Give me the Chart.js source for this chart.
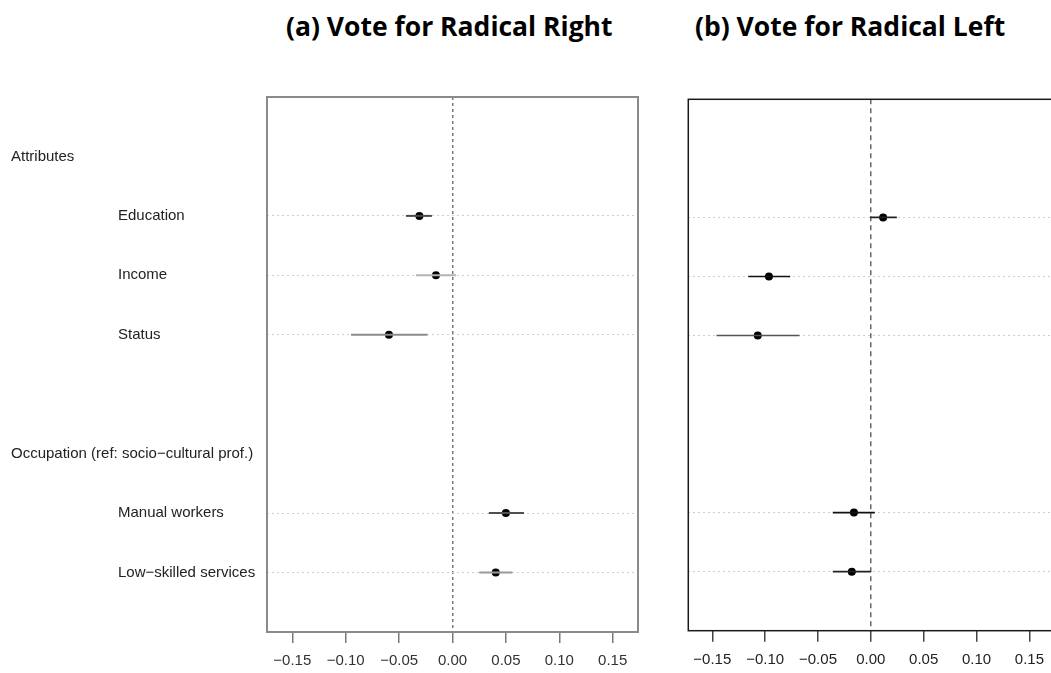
<!DOCTYPE html>
<html>
<head>
<meta charset="utf-8">
<script src="https://cdn.jsdelivr.net/npm/chart.js@4.4.1/dist/chart.umd.min.js"></script>
<style>
  html, body { margin: 0; padding: 0; background: #fff; overflow: hidden; width: 1051px; height: 673px; }
  canvas { position: absolute; top: 0; }
  #panelA { left: 0; }
  #panelB { left: 660px; }
  .title { position: absolute; top: 8px; font-family: "Open Sans", "Lato", sans-serif; font-weight: bold; font-size: 26.5px; color: #000; white-space: nowrap; }
</style>
</head>
<body>
<div class="title" id="titleA" style="left:286px">(a) Vote for Radical Right</div>
<div class="title" id="titleB" style="left:695px">(b) Vote for Radical Left</div>
<canvas id="panelA" width="660" height="673"></canvas>
<canvas id="panelB" width="420" height="673"></canvas>
<script>
// Row labels, top to bottom (blank entry = spacer row)
const rowLabels = ['Attributes', 'Education', 'Income', 'Status', '', 'Occupation (ref: socio\u2212cultural prof.)', 'Manual workers', 'Low\u2212skilled services'];
const headerRows = ['Attributes', 'Occupation (ref: socio\u2212cultural prof.)'];
// Coefficient terms, in the order they appear
const terms = ['Education', 'Income', 'Status', 'Manual workers', 'Low\u2212skilled services'];

// (a) Vote for radical right: estimates and 95% intervals
const rightEst = [-0.031, -0.0155, -0.0595, 0.050, 0.0405];
const rightLo  = [-0.0436, -0.0342, -0.095, 0.034, 0.025];
const rightHi  = [-0.0193, 0.0032, -0.0234, 0.067, 0.056];
const rightBarColors = ['#4a4a4a', '#b4b4b4', '#8c8c8c', '#505050', '#9a9a9a'];

// (b) Vote for radical left: estimates and 95% intervals
const leftEst = [0.0116, -0.0964, -0.107, -0.016, -0.018];
const leftLo  = [-0.0007, -0.116, -0.146, -0.036, -0.036];
const leftHi  = [0.0246, -0.0763, -0.0675, 0.0038, 0.0];
const leftBarColors = ['#222', '#111', '#555', '#111', '#222'];

// Tick labels on the coefficient axis
const xTicks = [-0.15, -0.10, -0.05, 0.00, 0.05, 0.10, 0.15];

const rowOf = name => rowLabels.indexOf(name) + 1;
const fmt = v => (v < 0 ? '\u2212' : '') + Math.abs(v).toFixed(2);

function makePanel(canvasId, est, lo, hi, barColors, st) {
  const datasets = terms.map((t, i) => ({
    type: 'line',
    data: [{ x: lo[i], y: rowOf(t) }, { x: hi[i], y: rowOf(t) }],
    borderColor: barColors[i],
    borderWidth: st.barWidth,
    pointRadius: 0,
    fill: false
  }));
  datasets.push({
    type: 'scatter',
    data: terms.map((t, i) => ({ x: est[i], y: rowOf(t) })),
    pointRadius: 4,
    backgroundColor: '#000',
    borderColor: '#000',
    borderWidth: 0
  });

  const boxAndLabels = {
    id: 'boxAndLabels',
    afterDraw(chart) {
      const ctx = chart.ctx, ca = chart.chartArea;
      ctx.save();
      ctx.strokeStyle = st.boxColor;
      ctx.lineWidth = st.boxWidth;
      ctx.setLineDash([]);
      ctx.strokeRect(ca.left, ca.top, ca.right - ca.left, ca.bottom - ca.top);
      if (st.rowText) {
        const ys = chart.scales.y;
        ctx.font = '15px "Liberation Sans", Arial, sans-serif';
        ctx.fillStyle = '#222';
        ctx.textBaseline = 'middle';
        ctx.textAlign = 'left';
        rowLabels.forEach((lab, i) => {
          if (!lab) return;
          const x = headerRows.includes(lab) ? 11 : 118;
          ctx.fillText(lab, x, ys.getPixelForValue(i + 1));
        });
      }
      ctx.restore();
    }
  };

  return new Chart(document.getElementById(canvasId), {
    type: 'scatter',
    data: { datasets },
    plugins: [boxAndLabels],
    options: {
      responsive: false,
      animation: false,
      events: [],
      layout: { padding: st.padding },
      plugins: { legend: { display: false }, tooltip: { enabled: false }, title: { display: false } },
      scales: {
        x: {
          type: 'linear',
          min: -st.xLim,
          max: st.xLim,
          afterBuildTicks: s => { s.ticks = xTicks.map(v => ({ value: v })); },
          afterFit: s => { s.height = st.axisHeight; },
          ticks: {
            callback: v => fmt(v),
            font: { family: '"Liberation Sans", Arial, sans-serif', size: 15 },
            color: st.tickText,
            padding: 9,
            maxRotation: 0,
            autoSkip: false
          },
          grid: {
            color: c => (c.tick && Math.abs(c.tick.value) < 1e-9) ? st.zeroColor : 'rgba(0,0,0,0)',
            lineWidth: 1.5,
            drawTicks: true,
            tickLength: 11,
            tickColor: st.tickColor,
            tickWidth: 1.5,
            tickBorderDash: []
          },
          border: { display: false, dash: st.zeroDash }
        },
        y: {
          type: 'linear',
          reverse: true,
          min: 0,
          max: rowLabels.length + 1,
          afterBuildTicks: s => { s.ticks = terms.map(t => ({ value: rowOf(t) })); },
          afterFit: s => { s.width = 0; },
          ticks: { display: false },
          grid: { color: '#cfcfcf', lineWidth: 1, drawTicks: false },
          border: { display: false, dash: [2, 3] }
        }
      }
    }
  });
}

makePanel('panelA', rightEst, rightLo, rightHi, rightBarColors, {
  padding: { left: 267, right: 22, top: 97, bottom: 0 },
  axisHeight: 41,
  xLim: 0.1737,
  barWidth: 2,
  boxColor: '#8a8a8a', boxWidth: 2,
  zeroColor: '#7a7a7a', zeroDash: [3, 3],
  tickColor: '#7a7a7a', tickText: '#333',
  rowText: true
});

makePanel('panelB', leftEst, leftLo, leftHi, leftBarColors, {
  padding: { left: 28.3, right: 26.6, top: 99.3, bottom: 0 },
  axisHeight: 42.3,
  xLim: 0.1727,
  barWidth: 1.6,
  boxColor: '#1a1a1a', boxWidth: 1.5,
  zeroColor: '#666', zeroDash: [5, 4],
  tickColor: '#444', tickText: '#222',
  rowText: false
});
</script>
</body>
</html>
